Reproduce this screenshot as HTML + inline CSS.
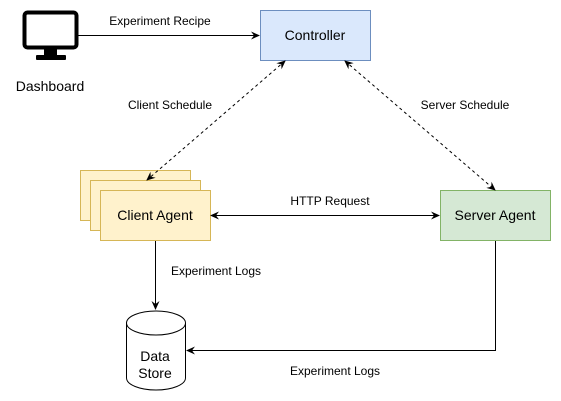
<!DOCTYPE html>
<html><head><style>body{margin:0;background:#fff}svg{display:block}text{font-family:"Liberation Sans",sans-serif;fill:#000}</style></head><body>
<svg width="561" height="401" viewBox="0 0 561 401" xmlns="http://www.w3.org/2000/svg">
<defs>
<marker id="a" markerWidth="10" markerHeight="10" refX="8" refY="5" orient="auto-start-reverse" markerUnits="userSpaceOnUse"><path d="M0,1 L9,5 L0,9 L3,5Z" fill="#000"/></marker>
</defs>
<!-- monitor -->
<rect x="24.5" y="12.5" width="52" height="35" rx="3" fill="#fff" stroke="#000" stroke-width="4"/>
<rect x="44" y="48" width="13" height="8" fill="#000"/>
<rect x="36" y="55" width="30" height="5" rx="1" fill="#000"/>
<text x="50" y="91" font-size="14" text-anchor="middle">Dashboard</text>
<!-- controller -->
<rect x="260.5" y="10.5" width="110" height="50" fill="#dae8fc" stroke="#6c8ebf"/>
<text x="315" y="40" font-size="14" text-anchor="middle">Controller</text>
<line x1="78" y1="35.5" x2="259" y2="35.5" stroke="#000" marker-end="url(#a)"/>
<text x="160" y="25" font-size="12" text-anchor="middle">Experiment Recipe</text>
<!-- client agent -->
<rect x="80.5" y="170.5" width="110" height="50" fill="#fff2cc" stroke="#d6b656"/>
<rect x="90.5" y="180.5" width="110" height="50" fill="#fff2cc" stroke="#d6b656"/>
<rect x="100.5" y="190.5" width="110" height="50" fill="#fff2cc" stroke="#d6b656"/>
<text x="155" y="220" font-size="14" text-anchor="middle">Client Agent</text>
<!-- server agent -->
<rect x="440.5" y="190.5" width="110" height="50" fill="#d5e8d4" stroke="#82b366"/>
<text x="495" y="220" font-size="14" text-anchor="middle">Server Agent</text>
<!-- dashed -->
<line x1="285" y1="61" x2="147" y2="180" stroke="#000" stroke-dasharray="3,3" marker-start="url(#a)" marker-end="url(#a)"/>
<text x="170" y="109" font-size="12" text-anchor="middle">Client Schedule</text>
<line x1="345" y1="61" x2="495" y2="190" stroke="#000" stroke-dasharray="3,3" marker-start="url(#a)" marker-end="url(#a)"/>
<text x="465" y="109" font-size="12" text-anchor="middle">Server Schedule</text>
<!-- http -->
<line x1="211" y1="215.5" x2="439" y2="215.5" stroke="#000" marker-start="url(#a)" marker-end="url(#a)"/>
<text x="330" y="205" font-size="12" text-anchor="middle">HTTP Request</text>
<!-- logs -->
<line x1="155.5" y1="241" x2="155.5" y2="309" stroke="#000" marker-end="url(#a)"/>
<text x="216" y="275" font-size="12" text-anchor="middle">Experiment Logs</text>
<path d="M495.5,241 V350.5 H187" fill="none" stroke="#000" marker-end="url(#a)"/>
<text x="335" y="375" font-size="12" text-anchor="middle">Experiment Logs</text>
<!-- cylinder -->
<path d="M126.5,323 A29.5,12 0 0 1 185.5,323 V378 A29.5,12 0 0 1 126.5,378 Z" fill="#fff" stroke="#000"/>
<path d="M126.5,323 A29.5,12 0 0 0 185.5,323" fill="none" stroke="#000"/>
<text x="155" y="361" font-size="14" text-anchor="middle">Data</text>
<text x="155" y="378" font-size="14" text-anchor="middle">Store</text>
</svg>
</body></html>
